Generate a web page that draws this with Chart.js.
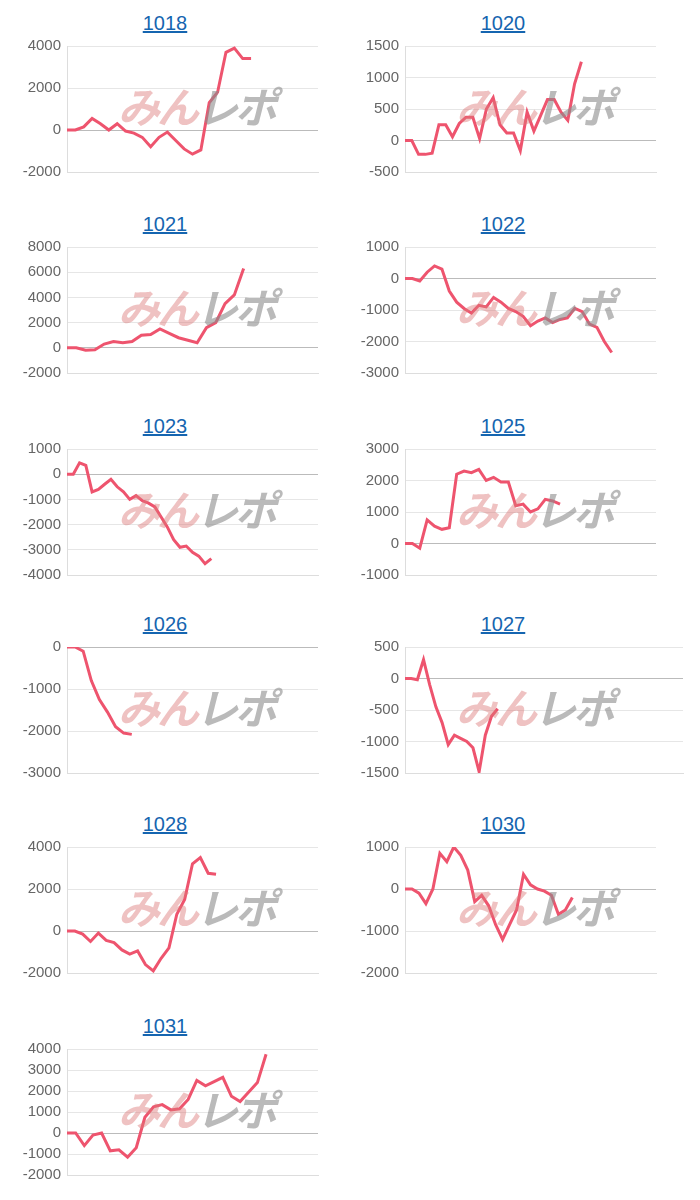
<!DOCTYPE html>
<html><head><meta charset="utf-8">
<script src="https://cdn.jsdelivr.net/npm/chart.js@4/dist/chart.umd.min.js"></script>
<style>
body{margin:0;background:#fff;font-family:Arial,"Liberation Sans",sans-serif;}
.blk{position:absolute;}
.ttl{position:absolute;top:11px;left:0;width:100%;text-align:center;font-size:20px;line-height:24px;}
.ttl a{color:#1565b0;text-decoration:underline;}
.cw{position:absolute;top:31px;left:0;height:156px;}
.wm{position:absolute;top:74px;font:italic bold 42px "Noto Sans CJK JP";letter-spacing:-3px;pointer-events:none;}
.wm .a{color:rgba(220,120,120,0.45);} .wm .b{color:rgba(140,140,140,0.6);}
</style></head><body>
<script>
const titles = ["1018","1020","1021","1022","1023","1025","1026","1027","1028","1030","1031"];
const labelCounts = [31,38,28,35,41,35,32,46,33,37,30];
const v1018 = [0,0,150,550,300,0,300,-50,-150,-350,-800,-350,-100,-500,-900,-1150,-950,1300,1800,3700,3900,3400,3400];
const v1020 = [0,0,-220,-220,-200,250,250,60,270,370,370,30,500,680,250,120,120,-160,450,150,400,650,650,450,320,900,1250];
const v1021 = [0,0,-200,-150,300,500,400,500,1000,1050,1500,1150,800,600,400,1600,2000,3500,4200,6300];
const v1022 = [0,0,-80,200,400,300,-400,-750,-950,-1100,-850,-900,-600,-750,-950,-1050,-1200,-1500,-1350,-1250,-1400,-1300,-1250,-950,-1050,-1450,-1550,-2000,-2350];
const v1023 = [0,0,450,350,-700,-600,-400,-200,-500,-700,-1000,-850,-1050,-1150,-1300,-1700,-2100,-2600,-2900,-2850,-3100,-3250,-3550,-3350];
const v1025 = [0,0,-150,750,550,450,500,2200,2300,2250,2350,2000,2100,1950,1950,1200,1250,1000,1100,1400,1350,1250];
const v1026 = [0,0,-100,-800,-1250,-1550,-1900,-2050,-2080];
const v1027 = [0,0,-20,300,-100,-450,-700,-1050,-900,-950,-1000,-1100,-1480,-900,-600,-480];
const v1028 = [0,0,-150,-500,-100,-450,-550,-900,-1100,-950,-1600,-1900,-1300,-800,800,1500,3200,3500,2750,2700];
const v1030 = [0,0,-100,-350,0,850,650,1000,800,450,-300,-150,-400,-850,-1200,-850,-500,350,100,0,-50,-150,-600,-500,-200];
const v1031 = [0,0,-600,-100,0,-850,-800,-1150,-700,750,1250,1350,1100,1150,1600,2500,2250,2450,2650,1750,1500,1950,2400,3750];
const series = [v1018,v1020,v1021,v1022,v1023,v1025,v1026,v1027,v1028,v1030,v1031];
const yMin = [-2000,-500,-2000,-3000,-4000,-1000,-3000,-1500,-2000,-2000,-2000];
const yMax = [4000,1500,8000,1000,1000,3000,0,500,4000,1000,4000];
const yStep = [2000,500,2000,1000,1000,1000,1000,500,2000,1000,1000];

const rowTops=[0,201,403,601,801,1003];
titles.forEach((t,i)=>{
  const col=i%2, row=Math.floor(i/2);
  const left = col===0?10:348;
  const w = (t==="1027")?337:310;
  const b=document.createElement('div'); b.className='blk';
  b.style.left=left+'px'; b.style.top=rowTops[row]+'px'; b.style.width='310px'; b.style.height='200px';
  b.innerHTML=`<div class="ttl"><a href="#">${t}</a></div><div class="cw" style="width:${w}px"><canvas></canvas></div><div class="wm" style="left:108px"><span class="a">みん</span><span class="b">レポ</span></div>`;
  document.body.appendChild(b);
  const labels=Array.from({length:labelCounts[i]},(_,k)=>String(k+1));
  new Chart(b.querySelector('canvas'),{
    type:'line',
    data:{labels,datasets:[{data:series[i],borderColor:'rgb(238,84,110)',borderWidth:3,pointRadius:0,tension:0,fill:false}]},
    options:{responsive:true,maintainAspectRatio:false,animation:false,
      layout:{padding:{top:4,bottom:4,right:2}},
      plugins:{legend:{display:false},tooltip:{enabled:false}},
      scales:{
        x:{ticks:{display:false},grid:{display:false},border:{color:'#ddd'}},
        y:{min:yMin[i],max:yMax[i],ticks:{stepSize:yStep[i],color:'#666',font:{size:15,family:'Arial, "Liberation Sans"'},padding:6,callback:v=>String(v)},
           grid:{color:c=>c.tick&&c.tick.value===0?'#bbb':'#e6e6e6',drawTicks:false},border:{display:true,color:'#ddd'},
           afterFit:s=>{s.width=57;}}
      }}
  });
});
</script>
</body></html>
